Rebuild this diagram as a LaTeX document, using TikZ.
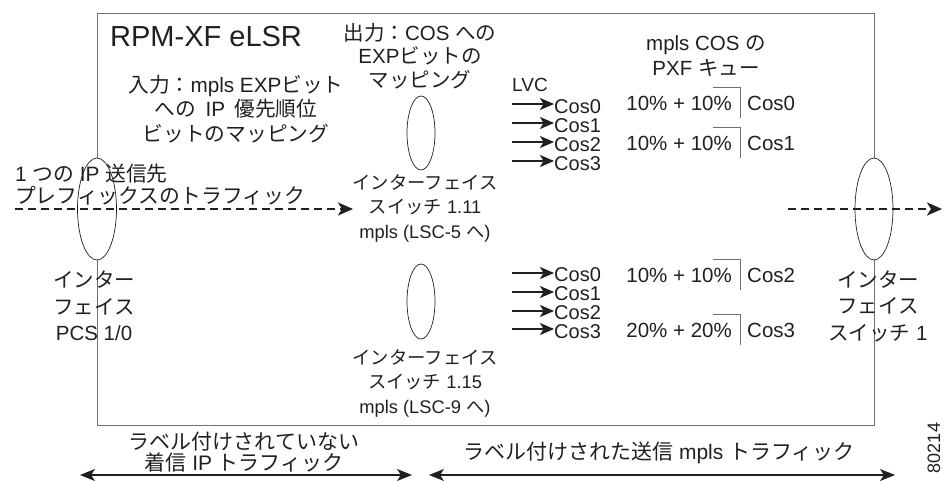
\documentclass[tikz,border=0pt]{standalone}
\usepackage{fontspec}
\setmainfont{Liberation Sans}
\newfontfamily\jp{Noto Sans CJK JP}
\usetikzlibrary{arrows.meta,shapes.geometric}
\newcommand\J[1]{{\jp #1}}
\newcommand\wsp{\hspace{0.45em}}
\definecolor{boxgray}{HTML}{707070}
\definecolor{inkc}{HTML}{231F20}
\begin{document}
\begin{tikzpicture}[x=1pt,y=-1pt,
  txt/.style={inner sep=0pt, align=center, text=inkc, font=\fontsize{20.5}{24.5}\selectfont},
  costxt/.style={inner sep=0pt, anchor=west, text=inkc, text height=14.3pt, text depth=0pt, font=\fontsize{20}{20}\selectfont},
  qtxt/.style={inner sep=0pt, anchor=east, text=inkc, text height=14.7pt, text depth=0pt, font=\fontsize{20.5}{20}\selectfont},
  port/.style={draw=inkc, ellipse, fill=white, line width=0.7pt, inner sep=0pt},
  cosarrow/.style={draw=inkc, line width=1.4pt, -{Stealth[length=14pt,width=12pt,inset=3.5pt]}},
  flow/.style={draw=inkc, line width=2.5pt, dash pattern=on 8pt off 5pt, -{Stealth[length=15pt,width=13pt,inset=4pt]}},
  span/.style={draw=inkc, line width=1.3pt, {Stealth[length=15pt,width=12pt,inset=4pt]}-{Stealth[length=15pt,width=12pt,inset=4pt]}},
  bracket/.style={draw=boxgray, line width=0.8pt}
]
\useasboundingbox (0,0) rectangle (944,481);

% router frame
\draw[boxgray, line width=1pt] (97,14) rectangle (874,425);

% title
\node[inner sep=0pt, anchor=base west, text=inkc, font=\fontsize{29}{30}\selectfont] (title) at (110,47) {RPM-XF eLSR};

% mapping labels
\node[txt, font=\fontsize{20.7}{24.5}\selectfont] (inmap) at (236,109) {\J{入力：}mpls EXP\J{ビット}\\\J{への}\wsp IP\wsp\J{優先順位}\\\J{ビットのマッピング}};
\node[txt, font=\fontsize{20.5}{23.5}\selectfont] (outmap) at (420,56) {\J{出力：}COS \J{への}\\EXP\J{ビットの}\\\J{マッピング}};
\node[txt, font=\fontsize{20.5}{25}\selectfont] (pxf) at (706,56) {mpls COS \J{の}\\PXF \J{キュー}};
\node[inner sep=0pt, anchor=west, text=inkc, font=\fontsize{19}{20}\selectfont] (lvc) at (512,85) {LVC};

% ports
\node[port, minimum width=39pt, minimum height=102pt] (inport) at (97,209) {};
\node[port, minimum width=38pt, minimum height=102pt] (outport) at (874,209) {};
\node[port, minimum width=28pt, minimum height=74pt] (sw11) at (421,133) {};
\node[port, minimum width=28pt, minimum height=75pt] (sw15) at (421,301.5) {};

% port labels
\node[txt, font=\fontsize{18.3}{24.5}\selectfont] (sw11lab) at (425,208) {\J{インターフェイス}\\\J{スイッチ} 1.11\\mpls (LSC-5 \J{へ})};
\node[txt, font=\fontsize{18.3}{24.5}\selectfont] (sw15lab) at (425,383) {\J{インターフェイス}\\\J{スイッチ} 1.15\\mpls (LSC-9 \J{へ})};
\node[txt, font=\fontsize{20.5}{26.5}\selectfont] (inlab) at (94,306) {\J{インター}\\\J{フェイス}\\PCS 1/0};
\node[txt, font=\fontsize{20.5}{26.5}\selectfont] (outlab) at (878,306) {\J{インター}\\\J{フェイス}\\\J{スイッチ} 1};

% incoming traffic label
\node[txt, align=left, anchor=west, font=\fontsize{20.8}{22}\selectfont] (traffic) at (15,185) {1 \J{つの} IP \J{送信先}\\\J{プレフィックスのトラフィック}};

% flows
\coordinate (fin) at (15,209);
\coordinate (finend) at (353,209);
\coordinate (fout) at (788,209);
\coordinate (foutend) at (942,209);
\draw[flow] (fin) -- (finend);
\draw[flow] (fout) -- (foutend);

% LVC upper group
\foreach \i/\y/\t in {0/104/106,1/123/125,2/142/144,3/161/163.5}{
  \coordinate (ua\i) at (512,\y);
  \node[costxt] (uc\i) at (554,\t) {Cos\i};
  \draw[cosarrow] (ua\i) -- (uc\i.west |- ua\i);
}
% LVC lower group
\foreach \i/\y/\t in {0/273/274.5,1/292/293,2/311/312,3/329/331.5}{
  \coordinate (la\i) at (512,\y);
  \node[costxt] (lc\i) at (554,\t) {Cos\i};
  \draw[cosarrow] (la\i) -- (lc\i.west |- la\i);
}

% PXF queues
\foreach \n/\y/\a/\c in {q0/103/10/0, q1/143/10/1, q2/275/10/2, q3/330/20/3}{
  \node[qtxt] (\n) at (732,\y) {\a\% + \a\%};
  \node[costxt, font=\fontsize{20.5}{20}\selectfont] (\n c) at (747,\y) {Cos\c};
  \coordinate (\n a) at (713,\y-16);
  \coordinate (\n b) at (740,\y-16);
  \coordinate (\n d) at (740,\y+15);
  \draw[bracket] (\n a) -- (\n b) -- (\n d);
}

% bottom spans
\coordinate (s1a) at (80,475);
\coordinate (s1b) at (412,475);
\coordinate (s2a) at (429,475);
\coordinate (s2b) at (895,475);
\draw[span] (s1a) -- (s1b);
\draw[span] (s2a) -- (s2b);
\node[txt, font=\fontsize{21}{20.5}\selectfont] (unlab) at (244,452) {\J{ラベル付けされていない}\\\J{着信} IP \J{トラフィック}};
\node[txt, font=\fontsize{21}{21}\selectfont] (lab) at (659,453) {\J{ラベル付けされた送信} mpls \J{トラフィック}};

% figure number
\node[inner sep=0pt, rotate=90, text=inkc, font=\fontsize{18}{20}\selectfont] (fignum) at (934,448) {80214};
\end{tikzpicture}
\end{document}
